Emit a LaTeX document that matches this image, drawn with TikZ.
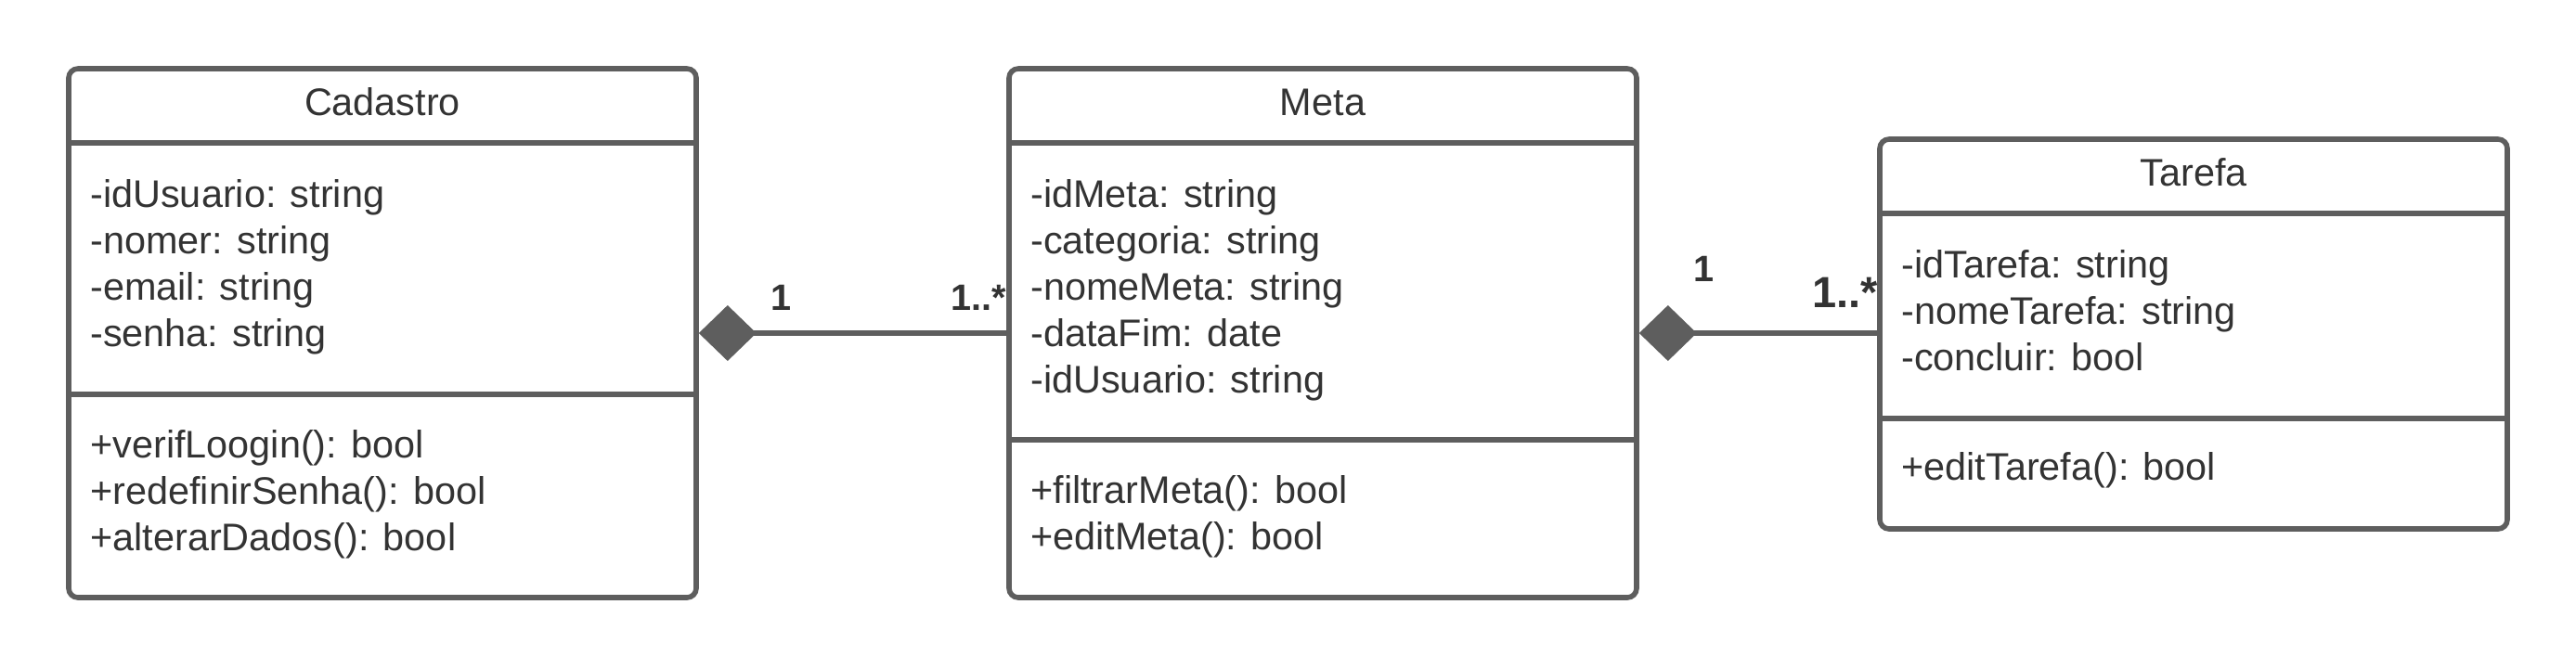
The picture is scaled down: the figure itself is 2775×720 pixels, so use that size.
\documentclass[tikz,border=0pt]{standalone}
\usepackage{fontspec}
\setmainfont{Liberation Sans}
\definecolor{umlgray}{RGB}{94, 94, 94}
\definecolor{umltext}{RGB}{51, 51, 51}
\usetikzlibrary{arrows.meta, positioning}

\begin{document}
\begin{tikzpicture}[x=0.5pt, y=-0.5pt,
    classbox/.style={draw=umlgray, line width=2.8pt, rounded corners=5pt, minimum width=338pt, inner sep=0pt},
    sep/.style={draw=umlgray, line width=2.6pt},
    title/.style={text=umltext, inner sep=0pt, font=\fontsize{20.7}{25}\selectfont},
    member/.style={anchor=west, text=umltext, inner sep=0pt, text height=0.75em, text depth=0.22em, font=\fontsize{20.7}{25}\selectfont},
    mult/.style={text=umltext, inner sep=0pt, font=\bfseries\fontsize{19.8}{24}\selectfont},
    comp/.style={draw=umlgray, line width=2.8pt, {Diamond[length=31pt, width=30pt, fill=umlgray]}-}]
    \useasboundingbox (0,0) rectangle (2775,720);
    % classes
    \node[classbox, minimum height=285pt] (cad) at (412,359) {};
    \node[classbox, minimum height=285pt] (meta) at (1425,359) {};
    \node[classbox, minimum height=210pt] (tar) at (2363,360) {};
    \foreach \cls/\ya/\yb in {cad/154/425, meta/154/474, tar/230/451} {
        \draw[sep] (\cls.west |- 0,\ya) -- (\cls.east |- 0,\ya);
        \draw[sep] (\cls.west |- 0,\yb) -- (\cls.east |- 0,\yb);
    }
    \node[title] (cadtitle) at (412,110) {Cadastro};
    \node[title] (metatitle) at (1425,110) {Meta};
    \node[title] (tartitle) at (2363,186) {Tarefa};
    % attributes and methods
    \foreach \txt [count=\i] in {-idUsuario: string, -nomer: string, -email: string, -senha: string}
        \node[member] (cadattr\i) at (97,168+50*\i) {\txt};
    \foreach \txt [count=\i] in {+verifLoogin(): bool, +redefinirSenha(): bool, +alterarDados(): bool}
        \node[member] (cadop\i) at (97,438+50*\i) {\txt};
    \foreach \txt [count=\i] in {-idMeta: string, -categoria: string, -nomeMeta: string, -dataFim: date, -idUsuario: string}
        \node[member] (metaattr\i) at (1110,168+50*\i) {\txt};
    \foreach \txt [count=\i] in {+filtrarMeta(): bool, +editMeta(): bool}
        \node[member] (metaop\i) at (1110,487+50*\i) {\txt};
    \foreach \txt [count=\i] in {-idTarefa: string, -nomeTarefa: string, -concluir: bool}
        \node[member] (tarattr\i) at (2048,244+50*\i) {\txt};
    \node[member] (tarop1) at (2048,512) {+editTarefa(): bool};
    % composition
    \draw[comp] (cad.east) -- (meta.west);
    \draw[comp] (meta.east) -- (meta.east -| tar.west);
    \node[mult] (cadone) at (842,321) {1};
    \node[mult, anchor=east] (metamany) at (1084,321) {1..*};
    \node[mult] (metaone) at (1835,290) {1};
    \node[mult, anchor=east, font=\bfseries\fontsize{23.5}{28}\selectfont] (tarmany) at (2023,315) {1..*};
\end{tikzpicture}
\end{document}
